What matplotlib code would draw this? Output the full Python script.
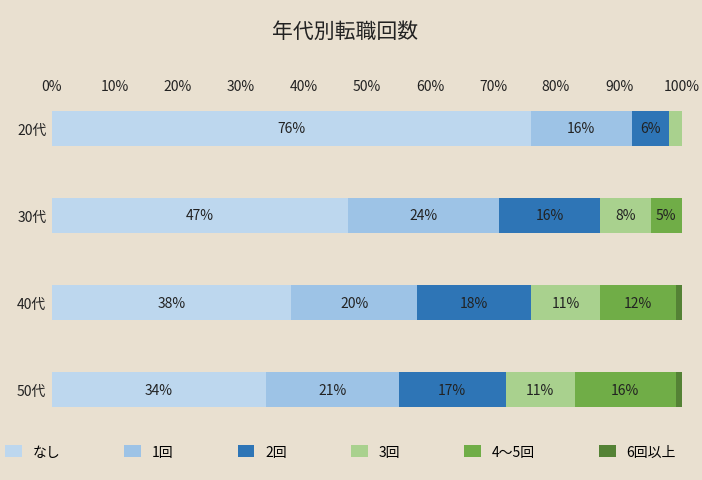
import matplotlib
matplotlib.use("Agg")
import matplotlib.pyplot as plt
import numpy as np

plt.rcParams["font.family"] = "Noto Sans CJK JP"

ages = ["20代", "30代", "40代", "50代"]
series = ["なし", "1回", "2回", "3回", "4～5回", "6回以上"]
values = [
    [76, 16, 6, 2, 0, 0],
    [47, 24, 16, 8, 5, 0],
    [38, 20, 18, 11, 12, 1],
    [34, 21, 17, 11, 16, 2],
]
colors = ["#bdd7ee", "#9dc3e6", "#2e75b6", "#a9d18e", "#70ad47", "#548235"]
ticks = [0, 10, 20, 30, 40, 50, 60, 70, 80, 90, 100]

W, H = 702, 481
fig = plt.figure(figsize=(W/100, H/100), dpi=100)
fig.patch.set_facecolor("#e9e0d0")
ax = fig.add_axes([52/W, 1-434.5/H, 630/W, (434.5-100)/H])
ax.set_facecolor("none")
vals = np.array(values, dtype=float)
y = np.arange(len(ages))
left = np.zeros(len(ages))
handles = []
for j, s in enumerate(series):
    b = ax.barh(y, vals[:, j], left=left, height=0.4, color=colors[j], label=s)
    handles.append(b)
    for i in range(len(ages)):
        v = vals[i, j]
        if v >= 5:
            ax.text(left[i] + v/2, y[i], f"{int(v)}%", ha="center", va="center",
                    fontsize=10, color="#222222")
    left += vals[:, j]
ax.set_xlim(0, 100)
ax.set_ylim(3.5, -0.333)
ax.xaxis.tick_top()
ax.set_xticks(ticks)
ax.set_xticklabels([f"{t}%" for t in ticks], fontsize=10, color="#222222")
ax.set_yticks(y)
ax.set_yticklabels(ages, fontsize=10, color="#222222")
ax.tick_params(length=0, pad=4)
for sp in ax.spines.values():
    sp.set_visible(False)
fig.text(345/W, 1-32/H, "年代別転職回数", ha="center", va="center", fontsize=15,
         color="#222222")
fig.legend(loc="center", bbox_to_anchor=(0.485, 1-453/H), ncol=6, frameon=False,
           fontsize=10, handlelength=1.2, handleheight=1.0, columnspacing=4.6,
           handletextpad=0.8)
fig.savefig("out.png", dpi=100, facecolor=fig.get_facecolor())
